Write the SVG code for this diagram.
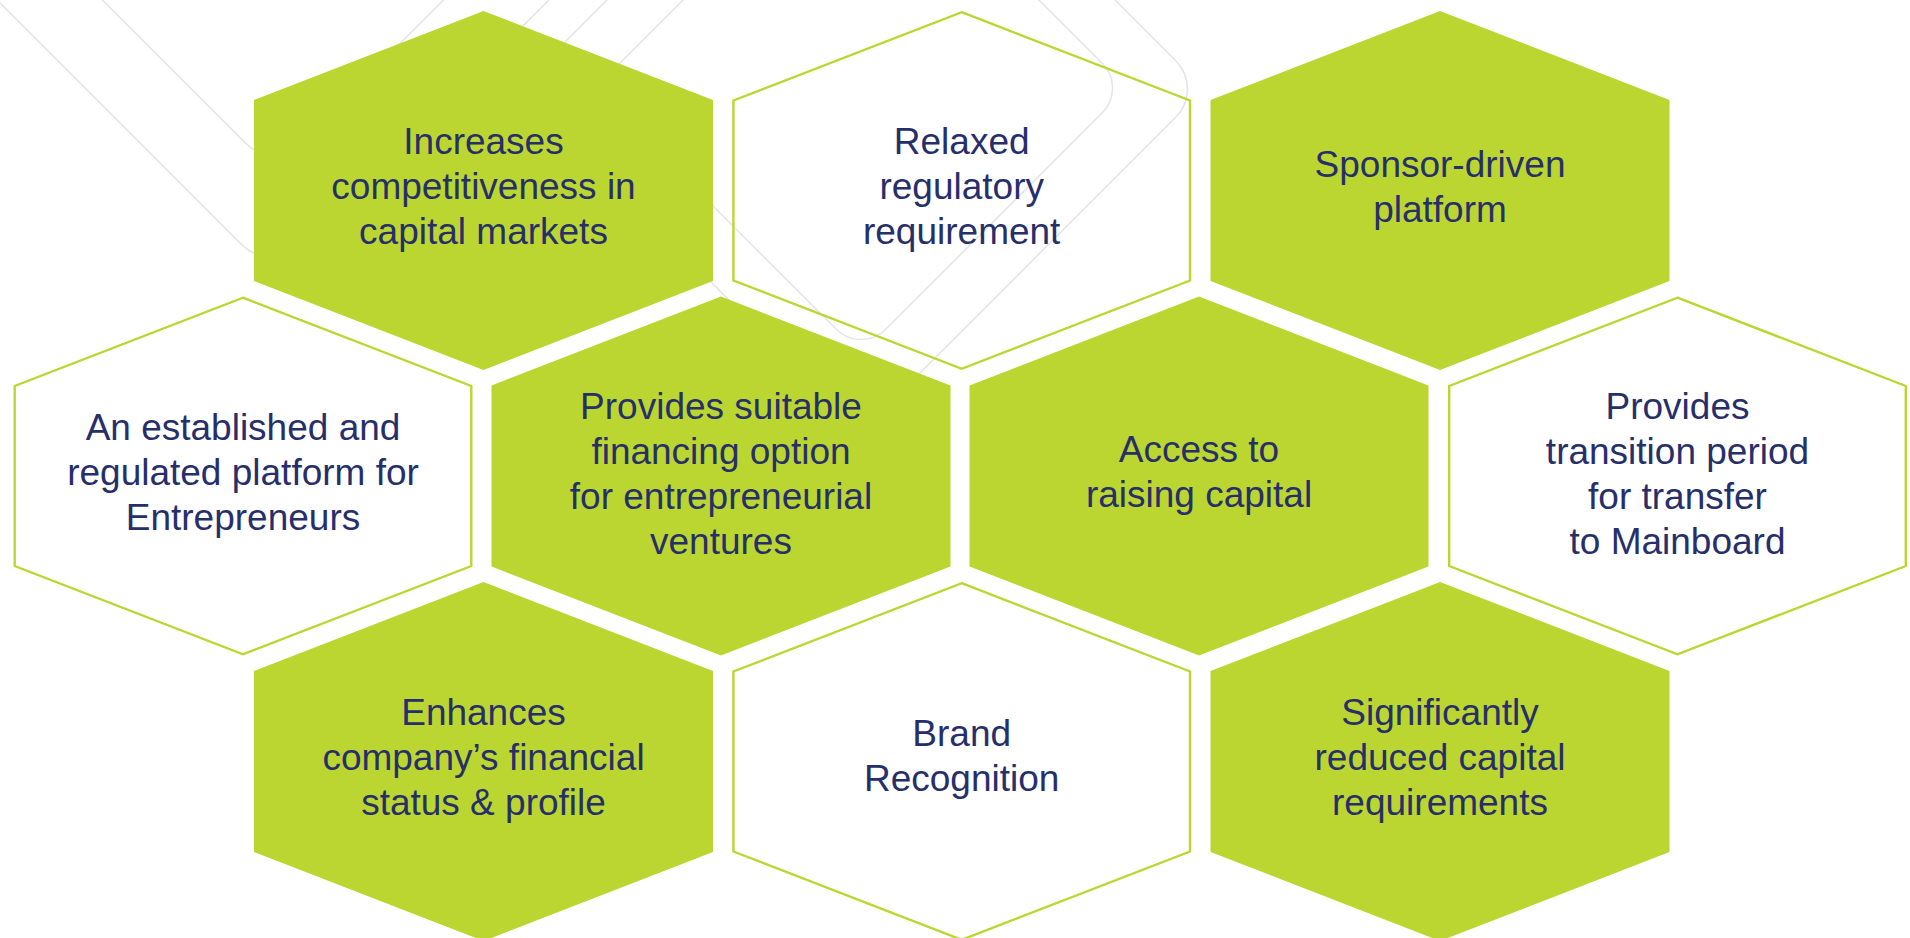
<svg xmlns="http://www.w3.org/2000/svg" xmlns:xlink="http://www.w3.org/1999/xlink" width="1910" height="938" viewBox="0 0 1910 938">
<style>
.bg{fill:none;stroke:#e5e5e5;stroke-width:1.6}
.hf{fill:#bcd631}
.ho{fill:none;stroke:#bcd631;stroke-width:2.4}
.t{font-family:"Liberation Sans",Arial,sans-serif;font-size:37px;fill:#272f6b;text-anchor:middle}
</style>
<defs>
<polygon id="hexF" points="0,-179.5 229.5,-90.5 229.5,90.5 0,179.5 -229.5,90.5 -229.5,-90.5"/>
<polygon id="hexO" points="0,-178.3 228.3,-90 228.3,90 0,178.3 -228.3,90 -228.3,-90"/>
</defs>
<rect width="1910" height="938" fill="#ffffff"/>
<g id="background">
<rect class="bg" x="7.1" y="-365.9" width="531.7" height="531.7" rx="45" transform="rotate(45 273 -100)"/>
<rect class="bg" x="81.75" y="-291.25" width="382.5" height="382.5" rx="38" transform="rotate(45 273 -100)"/>
<rect class="bg" x="672.9" y="-100.1" width="376.2" height="376.2" rx="35" transform="rotate(45 861 88)"/>
<rect class="bg" x="618.45" y="-153.55" width="485.1" height="485.1" rx="40" transform="rotate(45 861 89)"/>
</g>
<g id="connectors"/>
<g id="node-competitiveness">
<use href="#hexF" class="hf" x="483.5" y="190.5"/>
<text class="t" x="483.5" y="154">Increases</text>
<text class="t" x="483.5" y="199">competitiveness in</text>
<text class="t" x="483.5" y="244">capital markets</text>
</g>
<g id="node-relaxed">
<use href="#hexO" class="ho" x="961.7" y="190.5"/>
<text class="t" x="961.7" y="154">Relaxed</text>
<text class="t" x="961.7" y="199">regulatory</text>
<text class="t" x="961.7" y="244">requirement</text>
</g>
<g id="node-sponsor">
<use href="#hexF" class="hf" x="1440" y="190.5"/>
<text class="t" x="1440" y="177">Sponsor-driven</text>
<text class="t" x="1440" y="222">platform</text>
</g>
<g id="node-established">
<use href="#hexO" class="ho" x="243" y="476"/>
<text class="t" x="243" y="439.5">An established and</text>
<text class="t" x="243" y="484.5">regulated platform for</text>
<text class="t" x="243" y="529.5">Entrepreneurs</text>
</g>
<g id="node-financing">
<use href="#hexF" class="hf" x="721" y="476"/>
<text class="t" x="721" y="419">Provides suitable</text>
<text class="t" x="721" y="464">financing option</text>
<text class="t" x="721" y="509">for entrepreneurial</text>
<text class="t" x="721" y="554">ventures</text>
</g>
<g id="node-access">
<use href="#hexF" class="hf" x="1199" y="476"/>
<text class="t" x="1199" y="461.5">Access to</text>
<text class="t" x="1199" y="506.5">raising capital</text>
</g>
<g id="node-transition">
<use href="#hexO" class="ho" x="1677.5" y="476"/>
<text class="t" x="1677.5" y="419">Provides</text>
<text class="t" x="1677.5" y="464">transition period</text>
<text class="t" x="1677.5" y="509">for transfer</text>
<text class="t" x="1677.5" y="554">to Mainboard</text>
</g>
<g id="node-enhances">
<use href="#hexF" class="hf" x="483.5" y="761.5"/>
<text class="t" x="483.5" y="725">Enhances</text>
<text class="t" x="483.5" y="770">company’s financial</text>
<text class="t" x="483.5" y="815">status &amp; profile</text>
</g>
<g id="node-brand">
<use href="#hexO" class="ho" x="961.7" y="761.5"/>
<text class="t" x="961.7" y="746">Brand</text>
<text class="t" x="961.7" y="791">Recognition</text>
</g>
<g id="node-capital">
<use href="#hexF" class="hf" x="1440" y="761.5"/>
<text class="t" x="1440" y="725">Significantly</text>
<text class="t" x="1440" y="770">reduced capital</text>
<text class="t" x="1440" y="815">requirements</text>
</g>
</svg>
